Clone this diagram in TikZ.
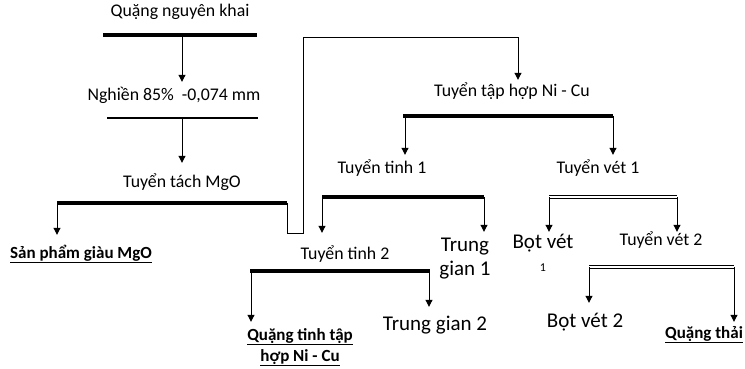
\documentclass[tikz,border=0pt]{standalone}
\usepackage{fontspec}
\setmainfont{Carlito}
\usetikzlibrary{arrows.meta}
\tikzset{
  lbl/.style={anchor=base, inner xsep=0pt, inner ysep=5pt, text height=13pt,
    font=\fontsize{17.8}{21}\selectfont},
  big/.style={lbl, align=center, text height=15pt, font=\fontsize{21}{24}\selectfont},
  prod/.style={lbl, align=center, font=\bfseries\fontsize{17}{21}\selectfont},
  bar/.style={line width=4pt},
  dbar/.style={double, double distance=1.6pt, line width=0.9pt},
  arr/.style={line width=1pt, -{Triangle[length=7pt,width=7pt]}},
}
\begin{document}
\begin{tikzpicture}[x=1pt, y=-1pt]
        \useasboundingbox (0,0) rectangle (745,369);

        % texts
        \node[lbl] (raw) at (180,17) {Quặng nguyên khai};
        \node[lbl] (grind) at (174,100) {Nghiền 85\%\ \ -0,074 mm};
        \node[lbl, inner ysep=11pt] (mgo) at (182,187) {Tuyển tách MgO};
        \node[prod, inner ysep=10pt] (mgoprod) at (81,258) {\underline{Sản phẩm giàu MgO}};
        \node[lbl, inner ysep=4pt] (tap) at (512,97) {Tuyển tập hợp Ni - Cu};
        \node[lbl] (tinh1) at (382,173) {Tuyển tinh 1};
        \node[lbl] (vet1) at (598,173) {Tuyển vét 1};
        \node[lbl, inner ysep=13pt] (tinh2) at (345,259) {Tuyển tinh 2};
        \node[big, text height=39pt, inner ysep=4pt] (tg1) at (465,275) {Trung\\gian 1};
        \node[big, text height=38pt, inner ysep=1pt] (bot1) at (543,271) {Bọt vét\\[-1pt]{\fontsize{12}{14}\selectfont 1}};
        \node[lbl, inner ysep=0pt] (vet2) at (661,245) {Tuyển vét 2};
        \node[prod, text height=34pt, inner ysep=5pt] (conc) at (300,361) {\underline{Quặng tinh tập}\\\underline{hợp Ni - Cu}};
        \node[big, inner ysep=8pt] (tg2) at (435,330) {Trung gian 2};
        \node[big, inner ysep=9pt] (bot2) at (585,327) {Bọt vét 2};
        \node[prod, inner ysep=3pt] (tail) at (704,338) {\underline{Quặng thải}};

        % bars
        \coordinate (b1m) at (182,35);
        \coordinate (b2m) at (182,118);
        \coordinate (b3l) at (57,203);
        \coordinate (b3r) at (287,203);
        \coordinate (b4l) at (405,116);
        \coordinate (b4r) at (613,116);
        \coordinate (b5l) at (322,197);
        \coordinate (b5r) at (484,197);
        \coordinate (b6l) at (549,197);
        \coordinate (b6r) at (677,197);
        \coordinate (b7l) at (251,271);
        \coordinate (b7r) at (429,271);
        \coordinate (b8l) at (589,267);
        \coordinate (b8r) at (734,267);
        \coordinate (jog) at (303,233);
        \coordinate (over) at (303,38);

        \draw[bar] (103,35) -- (257,35);
        \draw[line width=2pt] (107,118) -- (258,118);
        \draw[bar] (b3l) -- (b3r);
        \draw[bar] (403,116) -- (b4r);
        \draw[line width=3.5pt] (b5l) -- (b5r);
        \draw[dbar] (b6l) -- (b6r);
        \draw[bar] (250,271) -- (430,271);
        \draw[dbar] (b8l) -- (b8r);

        % arrows
        \draw[arr] (b1m) -- (b1m |- grind.north);
        \draw[arr] (b2m) -- (b2m |- mgo.north);
        \draw[arr] (b3l) -- (b3l |- mgoprod.north);
        \draw[arr] (b3r) |- (jog) -- (over) -| ([xshift=6pt]tap.north);
        \draw[arr] (b4l) -- (b4l |- tinh1.north);
        \draw[arr] (b4r) -- (b4r |- vet1.north);
        \draw[arr] (b5l) -- (b5l |- tinh2.north);
        \draw[arr] (b5r) -- (b5r |- tg1.north);
        \draw[arr] (b6l) -- (b6l |- bot1.north);
        \draw[arr] (b6r) -- (b6r |- vet2.north);
        \draw[arr] (b7l) -- (b7l |- conc.north);
        \draw[arr] (b7r) -- (b7r |- tg2.north);
        \draw[arr] (b8l) -- (b8l |- bot2.north);
        \draw[arr] (b8r) -- (b8r |- tail.north);
    \end{tikzpicture}
\end{document}
